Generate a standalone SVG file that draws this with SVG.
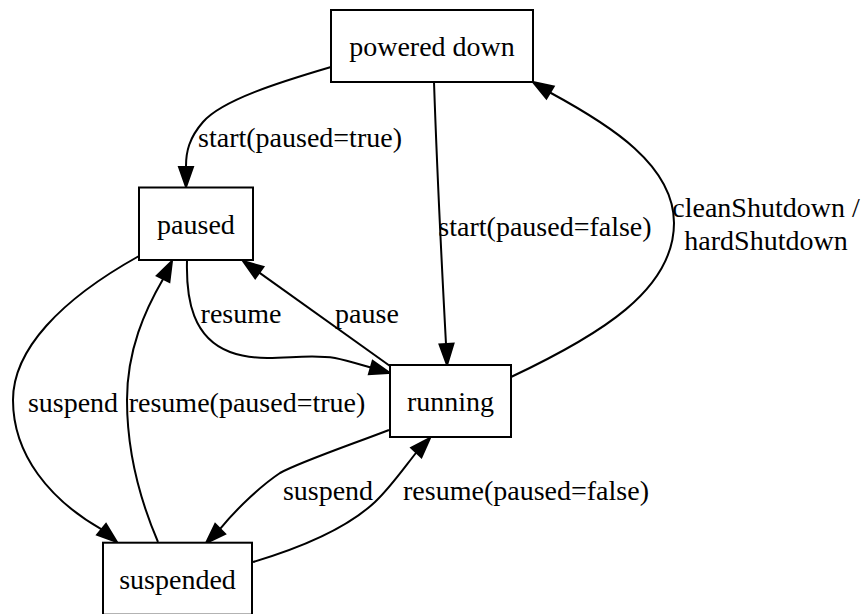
<svg xmlns="http://www.w3.org/2000/svg" width="861" height="614" viewBox="0 0 861 614">
<style>
  .node rect { fill: #ffffff; stroke: #000000; stroke-width: 2; }
  text { font-family: 'Liberation Serif', 'DejaVu Serif', serif; font-size: 28px; fill: #000000; text-anchor: middle; }
  .edge path { fill: none; stroke: #000000; stroke-width: 2; }
  .edge polygon { fill: #000000; stroke: #000000; stroke-width: 2; }
</style>
<rect width="861" height="614" fill="#ffffff"/>
<g id="connectors" font-family="Liberation Serif, serif">
  <g class="edge" id="e-start-paused">
    <path d="M331,67 C280,82 222,100 203,122 C189,138 186,152 186,166"/>
    <polygon points="186,187 179,167 193,167"/>
    <text x="300" y="147" font-family="Liberation Serif, serif">start(paused=true)</text>
  </g>
  <g class="edge" id="e-start-running">
    <path d="M434,82 C437,170 442,270 446,344"/>
    <polygon points="447,365 439.5,344.5 453.5,343.5"/>
    <text x="545" y="236" font-family="Liberation Serif, serif">start(paused=false)</text>
  </g>
  <g class="edge" id="e-shutdown">
    <path d="M511,377 C600,335 674,290 674,223 C674,165 610,125 550,92.5"/>
    <polygon points="533,82 553.7,86.4 546.4,98.4"/>
    <text x="766" y="217" font-family="Liberation Serif, serif">cleanShutdown /</text>
    <text x="766" y="250" font-family="Liberation Serif, serif">hardShutdown</text>
  </g>
  <g class="edge" id="e-resume">
    <path d="M187,261 C186,300 193,338 230,352 C265,365 300,352 335,358 C345,360 355,363 370.8,367.5"/>
    <polygon points="390,373 372.7,360.8 368.9,374.2"/>
    <text x="241" y="323" font-family="Liberation Serif, serif">resume</text>
  </g>
  <g class="edge" id="e-pause">
    <path d="M390,366 L259.3,272.6"/>
    <polygon points="243,261 263.4,266.9 255.2,278.3"/>
    <text x="367" y="323" font-family="Liberation Serif, serif">pause</text>
  </g>
  <g class="edge" id="e-suspend-paused">
    <path d="M139,256 C60,300 13,350 13,400 C13,455 50,500 101.6,529.3"/>
    <polygon points="117,542 97.1,534.7 106,523.9"/>
    <text x="73" y="412" font-family="Liberation Serif, serif">suspend</text>
  </g>
  <g class="edge" id="e-resume-paused">
    <path d="M158,542 C140,500 127,450 127,400 C127,350 145,310 163.1,278.9"/>
    <polygon points="172,261 169.4,282 156.8,275.8"/>
    <text x="247" y="412" font-family="Liberation Serif, serif">resume(paused=true)</text>
  </g>
  <g class="edge" id="e-suspend-running">
    <path d="M389,430 C350,445 300,462 280,473 C262,485 238,507 220.1,528.9"/>
    <polygon points="206,543 225.1,533.9 215.2,524"/>
    <text x="328" y="500" font-family="Liberation Serif, serif">suspend</text>
  </g>
  <g class="edge" id="e-resume-running">
    <path d="M253,562 C300,548 345,530 375,502 C390,488 404,468 416.3,452.5"/>
    <polygon points="430,438 421.4,457.3 411.2,447.7"/>
    <text x="526" y="500" font-family="Liberation Serif, serif">resume(paused=false)</text>
  </g>
</g>
<g class="node" id="n-powered-down">
  <rect x="331" y="10" width="202" height="72"/>
  <text x="432" y="56" font-family="Liberation Serif, serif">powered down</text>
</g>
<g class="node" id="n-paused">
  <rect x="139" y="187.5" width="114" height="72.5"/>
  <text x="196" y="233.5" font-family="Liberation Serif, serif">paused</text>
</g>
<g class="node" id="n-running">
  <rect x="390" y="365" width="121" height="72"/>
  <text x="450.5" y="411" font-family="Liberation Serif, serif">running</text>
</g>
<g class="node" id="n-suspended">
  <rect x="103" y="542.7" width="149" height="72"/>
  <text x="177.5" y="588.5" font-family="Liberation Serif, serif">suspended</text>
</g>
</svg>
